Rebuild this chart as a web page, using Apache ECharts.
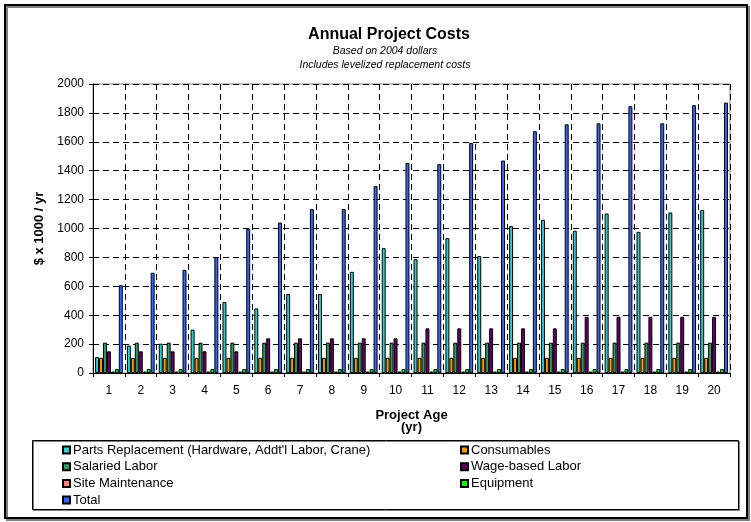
<!DOCTYPE html>
<html>
<head>
<meta charset="utf-8">
<script src="https://cdn.jsdelivr.net/npm/echarts@6/dist/echarts.min.js"></script>
<style>
html,body{margin:0;padding:0;background:#fff;}
#chart{width:751px;height:522px;}
</style>
</head>
<body>
<div id="chart"></div>
<script>
const years = ['1','2','3','4','5','6','7','8','9','10','11','12','13','14','15','16','17','18','19','20'];
const yTicks = [0,200,400,600,800,1000,1200,1400,1600,1800,2000];
const seriesNames = ['Parts Replacement (Hardware, Addt\'l Labor, Crane)','Consumables','Salaried Labor','Wage-based Labor','Site Maintenance','Equipment','Total'];
const partsReplacement = [110,190,203,300,491,447,546,546,700,864,788,933,809,1016,1060,984,1104,977,1111,1129];
const consumables = [105,105,105,105,105,105,105,105,105,105,105,105,105,105,105,105,105,105,105,105];
const salariedLabor = [210,210,210,210,210,210,210,210,210,210,210,210,210,210,210,210,210,210,210,210];
const wageLabor = [150,150,150,150,150,240,240,240,240,240,309,309,309,309,309,389,389,389,389,389];
const siteMaintenance = [10,10,10,10,10,10,10,10,10,10,10,10,10,10,10,10,10,10,10,10];
const equipment = [27,27,27,27,27,27,27,27,27,27,27,27,27,27,27,27,27,27,27,27];
const total = [608,694,714,802,1000,1041,1134,1134,1293,1454,1445,1592,1470,1673,1721,1728,1846,1728,1853,1871];

const values = [partsReplacement, consumables, salariedLabor, wageLabor, siteMaintenance, equipment, total];
const colors = ['#33CCCC','#FF9900','#339966','#660066','#FF8080','#00FF00','#3366FF'];
const FONT = 'Liberation Sans, Arial, sans-serif';

const legendBase = {
  orient: 'vertical', top: 438.5, height: 78,
  itemWidth: 7, itemHeight: 7, itemGap: 3.7, icon: 'rect',
  textStyle: {fontFamily: FONT, fontSize: 13, color: '#000', lineHeight: 13, padding: [0,0,0,-2]}
};

const chart = echarts.init(document.getElementById('chart'), null, {renderer:'canvas'});
const option = {
  animation: false,
  backgroundColor: '#fff',
  textStyle: {fontFamily: FONT},
  title: [
    {text: 'Annual Project Costs', left: 384, textAlign: 'center', top: 22,
     textStyle: {fontFamily: FONT, fontSize: 16, fontWeight: 'bold', color: '#000'}},
    {text: 'Based on 2004 dollars\nIncludes levelized replacement costs', left: 380, textAlign: 'center', top: 39,
     textStyle: {fontFamily: FONT, fontSize: 10.5, fontStyle: 'italic', fontWeight: 'normal', color: '#000', lineHeight: 14, align: 'center'}}
  ],
  grid: {left: 93, right: 21, top: 84, bottom: 149, show: true, borderColor: '#808080', borderWidth: 1, containLabel: false},
  legend: [
    Object.assign({}, legendBase, {data: [seriesNames[0], seriesNames[2], seriesNames[4], seriesNames[6]], left: 57}),
    Object.assign({}, legendBase, {data: [seriesNames[1], seriesNames[3], seriesNames[5]], left: 455})
  ],
  xAxis: {
    type: 'category', data: years, boundaryGap: true,
    name: 'Project Age\n(yr)', nameLocation: 'middle', nameGap: 36,
    nameTextStyle: {fontFamily: FONT, fontSize: 13, fontWeight: 'bold', color: '#000', lineHeight: 12},
    axisLine: {lineStyle: {color: '#000', width: 1}},
    axisTick: {show: true, inside: false, length: 4, interval: 0, lineStyle: {color: '#000'}},
    axisLabel: {fontFamily: FONT, fontSize: 12, color: '#000', margin: 12, interval: 0},
    splitLine: {show: true, interval: 0, lineStyle: {color: '#000', type: [6,4], width: 1}}
  },
  yAxis: {
    type: 'value', min: 0, max: 2000, interval: 200,
    name: '$ x 1000 / yr', nameLocation: 'middle', nameGap: 41, nameRotate: 90,
    nameTextStyle: {fontFamily: FONT, fontSize: 13, fontWeight: 'bold', color: '#000'},
    axisLine: {show: true, lineStyle: {color: '#000', width: 1}},
    axisTick: {show: true, inside: false, length: 4, lineStyle: {color: '#000'}},
    axisLabel: {fontFamily: FONT, fontSize: 12, color: '#000', margin: 9,
      formatter: function(v){ return yTicks.indexOf(v) >= 0 ? String(v) : ''; }},
    splitLine: {show: true, lineStyle: {color: '#000', type: [6,4], width: 1}}
  },
  series: seriesNames.map(function(name, i){
    return {
      name: name, type: 'bar', data: values[i],
      barGap: '0%', barCategoryGap: '13%',
      itemStyle: {color: colors[i], borderColor: '#000', borderWidth: 1},
      emphasis: {disabled: true}
    };
  }),
  graphic: [
    {type: 'rect', shape: {x: 5, y: 5, width: 742, height: 513}, z: 100,
     style: {fill: 'none', stroke: '#000', lineWidth: 2, shadowColor: 'rgba(0,0,0,0.5)', shadowOffsetX: 2, shadowOffsetY: 2, shadowBlur: 0}},
    {type: 'rect', shape: {x: 32.5, y: 440.5, width: 706, height: 69}, z: 100,
     style: {fill: 'none', stroke: '#000', lineWidth: 1, shadowColor: 'rgba(0,0,0,0.5)', shadowOffsetX: 1, shadowOffsetY: 1, shadowBlur: 0}}
  ]
};
chart.setOption(option);
</script>
</body>
</html>
